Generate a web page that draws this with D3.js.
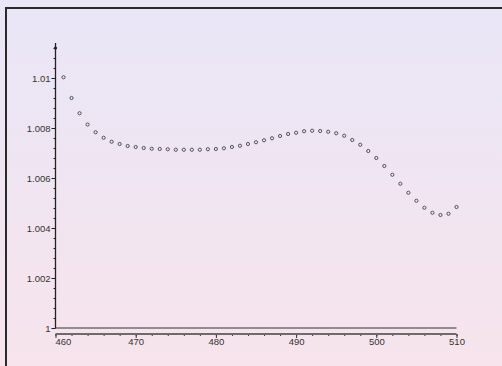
<!DOCTYPE html>
<html>
<head>
<meta charset="utf-8">
<script src="https://cdn.jsdelivr.net/npm/d3@7"></script>
<style>
  html, body { margin: 0; padding: 0; }
  body { width: 502px; height: 366px; overflow: hidden; }
  svg { display: block; }
</style>
</head>
<body>
<div id="chart"></div>
<script>
// wavelength (x) and ratio (y)
var xs = [461, 462, 463, 464, 465, 466, 467, 468, 469, 470,
  471, 472, 473, 474, 475, 476, 477, 478, 479, 480,
  481, 482, 483, 484, 485, 486, 487, 488, 489, 490,
  491, 492, 493, 494, 495, 496, 497, 498, 499, 500,
  501, 502, 503, 504, 505, 506, 507, 508, 509, 510]
var ys = [1.01003, 1.0092, 1.00859, 1.00814, 1.00783, 1.00761, 1.00745, 1.00736, 1.00728, 1.00724,
  1.0072, 1.00717, 1.00716, 1.00715, 1.00713, 1.00713, 1.00713, 1.00713, 1.00715, 1.00716,
  1.00719, 1.00724, 1.00729, 1.00736, 1.00743, 1.00751, 1.00759, 1.00768, 1.00776, 1.00781,
  1.00787, 1.00789, 1.00788, 1.00785, 1.00779, 1.00769, 1.00752, 1.00733, 1.00708, 1.0068,
  1.00648, 1.00613, 1.00577, 1.00541, 1.00509, 1.00481, 1.00461, 1.00452, 1.00457, 1.00484]
var xTicks = [460, 470, 480, 490, 500, 510]
var yTicks = [1, 1.002, 1.004, 1.006, 1.008, 1.01]
var yTickLabels = ['1', '1.002', '1.004', '1.006', '1.008', '1.01']

var W = 502, H = 366
var svg = d3.select('#chart').append('svg')
  .attr('width', W)
  .attr('height', H)

// fond degrade lavande -> rose
var defs = svg.append('defs')
var grad = defs.append('linearGradient')
  .attr('id', 'bg')
  .attr('x1', 0).attr('y1', 0).attr('x2', 0).attr('y2', 1)
grad.append('stop').attr('offset', '0%').attr('stop-color', '#e9e6f7')
grad.append('stop').attr('offset', '100%').attr('stop-color', '#f7e4ec')
svg.append('rect')
  .attr('width', W).attr('height', H)
  .attr('fill', 'url(#bg)')

// cadre (bord gauche + haut)
svg.append('path')
  .attr('d', 'M6,' + H + ' V8 H' + W)
  .attr('fill', 'none')
  .attr('stroke', '#2a2a2a')
  .attr('stroke-width', 2)

var x = d3.scaleLinear().domain([460, 510]).range([55.5, 456.5])
var y = d3.scaleLinear().domain([1, 1.01]).range([328, 78])

// axe y
var gy = svg.append('g').attr('transform', 'translate(55.5,0)')
var minorY = d3.range(0, 29).map(function (i) { return 1 + i * 0.0004 })
gy.append('g')
  .call(d3.axisLeft(y).tickValues(minorY).tickSize(2).tickFormat(''))
  .call(function (g) { g.select('.domain').remove() })
gy.append('g')
  .call(d3.axisLeft(y).tickValues(yTicks).tickSize(4)
    .tickFormat(function (d, i) { return yTickLabels[i] }))
  .call(function (g) { g.select('.domain').remove() })
gy.append('line')
  .attr('x1', 0).attr('x2', 0)
  .attr('y1', y(1)).attr('y2', y(1.0114))
  .attr('stroke', '#222').attr('stroke-width', 1.3)
gy.append('circle')
  .attr('cx', 0).attr('cy', y(1.0112))
  .attr('r', 1.6).attr('fill', '#222')
gy.selectAll('.tick line').attr('stroke', '#222')
gy.selectAll('.tick text')
  .attr('fill', '#333')
  .style('font-family', 'Liberation Sans, Arial, sans-serif')
  .style('font-size', '9.5px')
  .attr('x', -5)

// ligne de base a y=1
svg.append('line')
  .attr('x1', x(460)).attr('x2', x(510))
  .attr('y1', y(1)).attr('y2', y(1))
  .attr('stroke', '#333').attr('stroke-width', 1)

// axe x
var gx = svg.append('g').attr('transform', 'translate(0,334)')
var minorX = d3.range(460, 511, 2)
gx.append('g')
  .call(d3.axisBottom(x).tickValues(minorX).tickSize(2).tickFormat(''))
  .call(function (g) { g.select('.domain').remove() })
gx.append('g')
  .call(d3.axisBottom(x).tickValues(xTicks).tickSize(4).tickFormat(d3.format('d')))
  .call(function (g) { g.select('.domain').remove() })
gx.append('line')
  .attr('x1', x(460)).attr('x2', x(510))
  .attr('stroke', '#6f6a6e').attr('stroke-width', 2)
gx.selectAll('.tick line').attr('stroke', '#333')
gx.selectAll('.tick text')
  .attr('fill', '#333')
  .attr('y', 4)
  .style('font-family', 'Liberation Sans, Arial, sans-serif')
  .style('font-size', '9.5px')
// le premier label est decale a droite
gx.selectAll('.tick text')
  .filter(function (d) { return d == 460 })
  .attr('text-anchor', 'start')
  .attr('x', -0.5)

// points
svg.append('g').selectAll('circle')
  .data(xs)
  .enter()
  .append('circle')
  .attr('cx', function (d) { return x(d) })
  .attr('cy', function (d, i) { return y(ys[i]) })
  .attr('r', 1.6)
  .attr('fill', 'none')
  .attr('stroke', '#444')
  .attr('stroke-width', 0.9)
</script>
</body>
</html>
